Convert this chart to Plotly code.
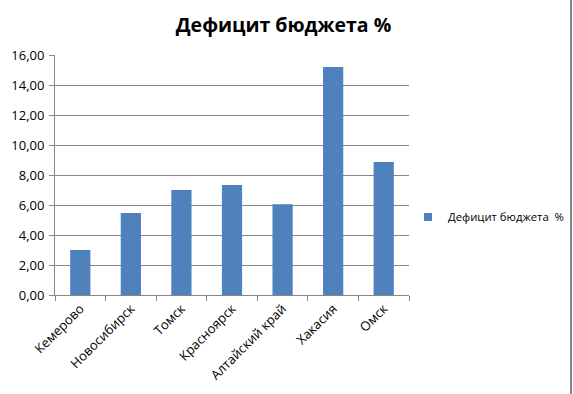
import plotly.graph_objects as go

categories = ["Кемерово", "Новосибирск", "Томск", "Красноярск", "Алтайский край", "Хакасия", "Омск"]
values = [3.0, 5.47, 7.0, 7.33, 6.05, 15.2, 8.87]
series_name = "Дефицит бюджета  %"
title_text = "Дефицит бюджета %"
y_ticks = [0, 2, 4, 6, 8, 10, 12, 14, 16]

W, H = 573, 394
L, R, T, B = 55, 164, 55, 99
pw = W - L - R
ph = H - T - B
bar_color = "#4F81BD"
grid_color = "#868686"

fig = go.Figure()
fig.add_trace(go.Bar(
    x=categories, y=values, name=series_name,
    marker=dict(color=bar_color, line=dict(width=0)),
    width=0.4, showlegend=False,
))
# legend entry with a small square key
fig.add_trace(go.Scatter(
    x=[categories[0]], y=[None], mode="markers", name=series_name,
    marker=dict(symbol="square", size=8, color=bar_color),
    showlegend=True, hoverinfo="skip",
))

font_family = "Open Sans, Liberation Sans, sans-serif"
border_x = 571
fig.update_layout(
    width=W, height=H,
    margin=dict(l=L, r=R, t=T, b=B, autoexpand=False),
    paper_bgcolor="white", plot_bgcolor="white",
    separators=", ",
    font=dict(family=font_family, size=12, color="black"),
    title=dict(text="<b>" + title_text + "</b>", x=283.5 / W, xanchor="center",
               y=1 - 25 / H, yanchor="middle",
               font=dict(family=font_family, size=19.5, color="black")),
    showlegend=True,
    legend=dict(xref="container", yref="container", x=408 / W, xanchor="left",
                y=1 - 217 / H, yanchor="middle",
                font=dict(size=11.3), itemwidth=30, bgcolor="rgba(0,0,0,0)"),
    xaxis=dict(type="category", tickangle=-45, showgrid=False, showline=True,
               linecolor=grid_color, linewidth=1, ticks="outside", tickson="boundaries",
               ticklen=5, tickcolor=grid_color, tickfont=dict(size=13), automargin=False),
    yaxis=dict(range=[0, 16], tickvals=y_ticks, tickformat=".2f", showgrid=True,
               gridcolor=grid_color, gridwidth=1, showline=True, linecolor=grid_color,
               ticks="outside", ticklen=5, tickcolor=grid_color, zeroline=False,
               tickfont=dict(size=13), automargin=False, ticklabelstandoff=2),
    shapes=[dict(type="line", xref="paper", yref="paper",
                 x0=(border_x - L) / pw, x1=(border_x - L) / pw,
                 y0=-B / ph, y1=1 + T / ph,
                 line=dict(color=grid_color, width=2))],
)

fig.write_html("out.html", config={"displayModeBar": False},
               post_script="document.body.style.margin='0';")
